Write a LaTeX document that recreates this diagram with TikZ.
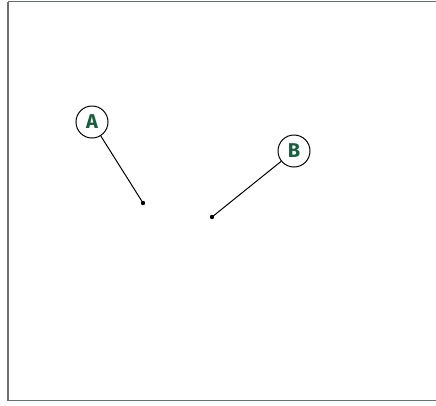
\documentclass[tikz,border=0pt]{standalone}
\usepackage{fontspec}
\setsansfont{Fira Sans}
\definecolor{labelgreen}{HTML}{17603F}
\definecolor{framegray}{HTML}{6B706E}
\begin{document}
\begin{tikzpicture}[x=1pt, y=-1pt,
    frame style/.style={draw=framegray, line width=1.3pt},
    marker style/.style={draw=black, circle, line width=1pt, minimum size=32pt, inner sep=0pt,
        text=labelgreen, font=\sffamily\bfseries\fontsize{20}{20}\selectfont},
    pointer style/.style={draw=black, line width=1pt},]
    \useasboundingbox (0,0) rectangle (436,405);
    \draw[style=frame style] (8,1.5) -- (8,400.5) -- (440,400.5) (8,1.5) -- (440,1.5);

    \pgfmathsetmacro{\dotr}{2.2}

    \coordinate (pA) at (143,203);
    \coordinate (pB) at (212,217);
    \node[style=marker style] (A) at (92,122) {A};
    \node[style=marker style] (B) at (294,151) {B};

    \draw[style=pointer style] (A) -- (pA);
    \draw[style=pointer style] (B) -- (pB);
    \fill (pA) circle (\dotr);
    \fill (pB) circle (\dotr);

\end{tikzpicture}
\end{document}
